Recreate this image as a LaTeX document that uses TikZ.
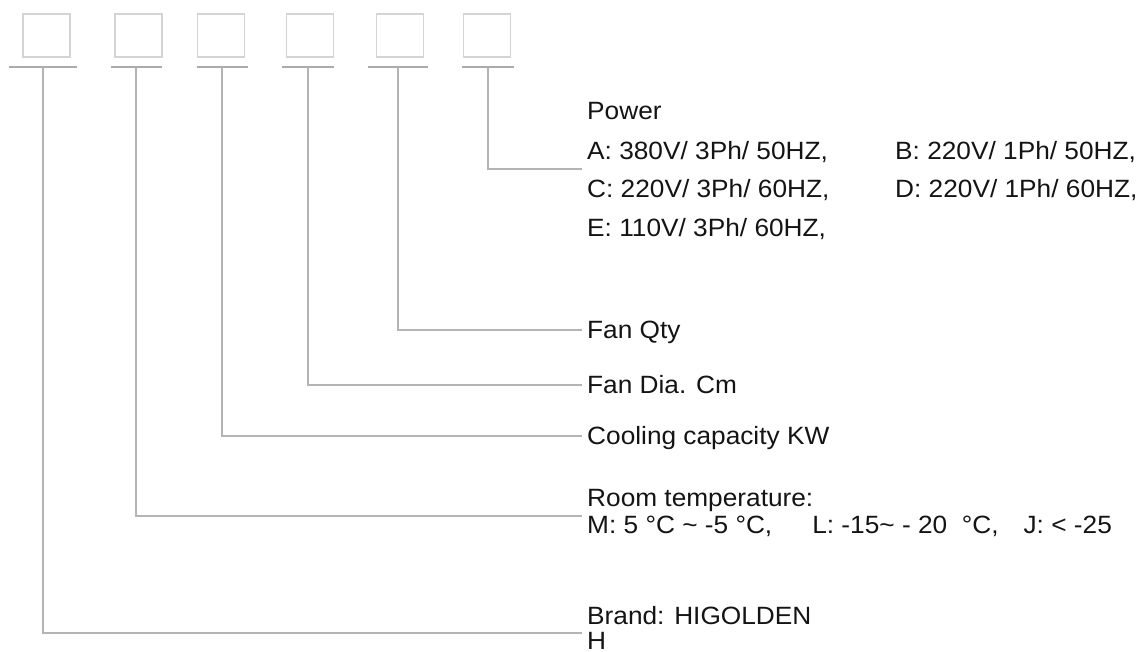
\documentclass[tikz,border=0pt]{standalone}
\usepackage{fontspec}
\setmainfont{Liberation Sans}[FakeStretch=1.05]
\usetikzlibrary{positioning}
\definecolor{boxgray}{HTML}{D4D4D4}
\definecolor{bargray}{HTML}{ABABAB}
\definecolor{leadgray}{HTML}{B4B4B4}
\definecolor{txtgray}{HTML}{141414}

\begin{document}
\begin{tikzpicture}[x=1pt,y=-1pt,
    codebox/.style={draw=boxgray,line width=1.5pt,minimum width=47pt,minimum height=43pt,inner sep=0pt},
    bar/.style={draw=bargray,line width=2.5pt},
    lead/.style={draw=leadgray,line width=2pt},
    lbl/.style={anchor=base west,inner xsep=4pt,inner ysep=0pt,text=txtgray,font=\fontsize{25}{27}\selectfont}]
  \useasboundingbox (0,0) rectangle (1144,652);
  % code boxes with their bars
  \foreach \i/\bx/\sx/\hw in {1/46.5/43/34, 2/138.5/136/25.5, 3/221/222/25.5, 4/310/308/26, 5/400/398/30, 6/487/488/26}{
    \node[codebox] (box\i) at (\bx,35.5) {};
    \draw[bar] (\sx-\hw,67) -- (\sx+\hw,67);
    \coordinate (top\i) at (\sx,67);
  }
  % power
  \node[lbl] (power) at (583,120) {Power};
  \node[lbl] (pwA) at (583,160) {A: 380V/ 3Ph/ 50HZ,};
  \node[lbl] (pwC) at (583,198) {C: 220V/ 3Ph/ 60HZ,};
  \node[lbl] (pwE) at (583,237) {E: 110V/ 3Ph/ 60HZ,};
  \node[lbl] (pwB) at (891,160) {B: 220V/ 1Ph/ 50HZ,};
  \node[lbl] (pwD) at (891,198) {D: 220V/ 1Ph/ 60HZ,};
  \coordinate (pw) at (582,169);
  % fan, cooling
  \node[lbl] (qty) at (583,339) {Fan Qty};
  \coordinate (fq) at (582,330);
  \node[lbl] (dia) at (583,394) {Fan Dia. Cm};
  \coordinate (fd) at (582,385);
  \node[lbl] (cool) at (583,445) {Cooling capacity KW};
  \coordinate (cc) at (582,436);
  % room temperature
  \node[lbl] (room) at (583,506) {Room temperature:};
  \node[lbl] (roomM) at (583,533) {M: 5 °C \textasciitilde{} -5 °C,\hspace{1.6em}L: -15\textasciitilde{} - 20 \ °C,\hspace{1em}J: < -25};
  \coordinate (rt) at (582,516);
  % brand
  \node[lbl] (brand) at (583,624) {Brand: HIGOLDEN};
  \node[lbl] (brandH) at (583,649) {H};
  \coordinate (br) at (582,633);

  \draw[lead] (top6) |- (pw);
  \draw[lead] (top5) |- (fq);
  \draw[lead] (top4) |- (fd);
  \draw[lead] (top3) |- (cc);
  \draw[lead] (top2) |- (rt);
  \draw[lead] (top1) |- (br);
\end{tikzpicture}
\end{document}
